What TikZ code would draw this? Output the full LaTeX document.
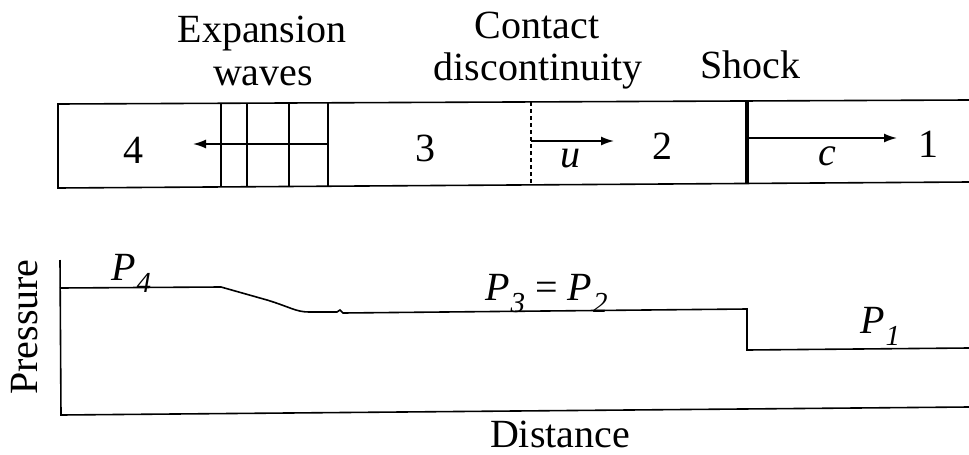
\documentclass[tikz,border=0pt]{standalone}
\usepackage{fontspec}
\setmainfont{Liberation Serif}
\usetikzlibrary{arrows.meta}
\tikzset{
  lbl/.style={inner sep=0pt, font=\fontsize{40}{46}\selectfont},
  ilbl/.style={inner sep=0pt, font=\fontsize{40}{46}\selectfont\itshape},
  thin/.style={line width=1.6pt},
  arr/.style={line width=1.6pt, -{Latex[length=13pt,width=9pt]}},
}
\newcommand{\Pvar}[1]{\textit{P}\kern1pt\raisebox{-0.3em}{\fontsize{29}{32}\selectfont\itshape #1}}
\begin{document}
\begin{tikzpicture}[x=1pt,y=-1pt]
\useasboundingbox (0,0) rectangle (969,455);
% titles
\node[lbl, anchor=base] (exp) at (262,42) {Expansion};
\node[lbl, anchor=base] (wav) at (263,85) {waves};
\node[lbl, anchor=base] (con) at (537,38) {Contact};
\node[lbl, anchor=base] (dis) at (538,80) {discontinuity};
\node[lbl, anchor=base] (sho) at (750,78) {Shock};
% tube
\draw[thin] (969,100) -- (58,104) -- (58,188) -- (969,182);
\foreach \x in {221,247,289,328} \draw[thin] (\x,103) -- (\x,187);
\draw[line width=1.2pt, dash pattern=on 4pt off 3pt] (531,102) -- (531,185);
\draw[line width=4pt] (747,101) -- (747,184);
% region labels
\node[lbl] (r4) at (133,150) {4};
\node[lbl] (r3) at (425,148) {3};
\node[lbl] (r2) at (662,146) {2};
\node[lbl] (r1) at (928,144) {1};
\node[ilbl] (u) at (570,159) {u};
\node[ilbl] (c) at (827,156) {c};
\coordinate (a4s) at (328,144);
\coordinate (a4e) at (193,144);
\coordinate (aus) at (531,141);
\coordinate (aue) at (614,141);
\coordinate (acs) at (747,138);
\coordinate (ace) at (897,138);
\draw[arr] (a4s) -- (a4e);
\draw[arr] (aus) -- (aue);
\draw[arr] (acs) -- (ace);
% pressure plot
\draw[thin] (60,260) -- (61,415) -- (969,407);
\draw[thin] (60,288) -- (221,287) -- (267,300) .. controls (290,307) and (296,312) .. (309,312)
  -- (337,312) -- (340,310) -- (343,313) -- (747,309) -- (747,350) -- (969,348);
\node[lbl, rotate=90] (pr) at (25,327) {Pressure};
\node[lbl, anchor=base] (di) at (560,447) {Distance};
\node[lbl, anchor=base west] (p4) at (111,280) {\Pvar{4}};
\node[lbl, anchor=base west] (p32) at (485,300) {\Pvar{3} = \Pvar{2}};
\node[lbl, anchor=base west] (p1) at (860,333) {\Pvar{1}};
\end{tikzpicture}
\end{document}
